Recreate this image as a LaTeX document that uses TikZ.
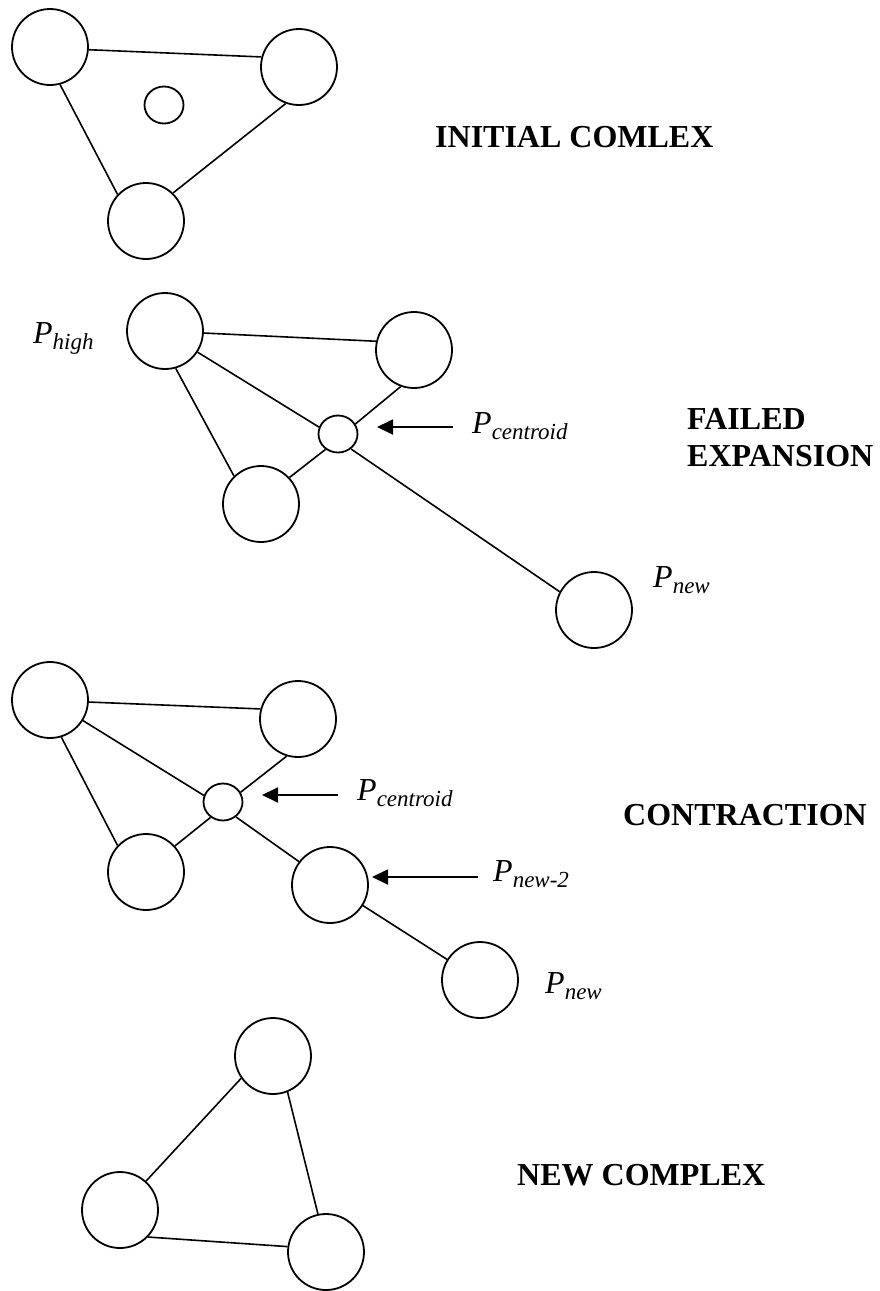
\documentclass[tikz,border=0pt]{standalone}
\usepackage{fontspec}
\setmainfont{Liberation Serif}
\usetikzlibrary{shapes.geometric,arrows.meta}

\newcommand{\plab}[1]{{\fontsize{32}{38}\selectfont\textit{P}\raisebox{-6pt}{\fontsize{23}{27}\selectfont\textit{#1}}}}

\begin{document}
\begin{tikzpicture}[x=1pt,y=-1pt,
  vertex/.style={circle,draw,line width=1.8pt,minimum size=76pt,inner sep=0pt},
  hub/.style={ellipse,draw,line width=1.8pt,minimum width=39pt,minimum height=37pt,inner sep=0pt},
  edge/.style={line width=1.6pt},
  pointer/.style={line width=1.8pt,-{Triangle[length=16pt,width=15pt]}},
  title/.style={anchor=base west,inner sep=0pt,font=\fontsize{32}{37}\selectfont\bfseries},
  plabel/.style={anchor=base west,inner sep=0pt}]
\useasboundingbox (0,0) rectangle (880,1291);

% ---- initial complex ----
\node[vertex] (a1) at (50,47) {};
\node[vertex] (b1) at (299,67) {};
\node[vertex] (c1) at (146,221) {};
\node[hub] (g1) at (164,105) {};
\draw[edge] (a1.-4.5) -- (b1.165);
\draw[edge] (a1.-75) -- (c1.137);
\draw[edge] (b1.-110) -- (c1.46);
\node[title] (t1) at (435,147) {INITIAL COMLEX};

% ---- failed expansion ----
\node[vertex] (h2) at (165,331) {};
\node[vertex] (r2) at (414,350) {};
\node[vertex] (l2) at (261,504) {};
\node[hub] (g2) at (338,434) {};
\node[vertex] (n2) at (594,610) {};
\draw[edge] (h2.-3) -- (r2.167);
\draw[edge] (h2.-33) -- (g2.160);
\draw[edge] (h2.-74) -- (l2.134);
\draw[edge] (g2.30) -- (r2.-110);
\draw[edge] (g2.-129) -- (l2.43);
\draw[edge] (g2.-49) -- (n2.152);
\node[plabel] (ph2) at (33,343) {\plab{high}};
\node[plabel] (pc2) at (472,433) {\plab{centroid}};
\node[plabel] (pn2) at (653,587) {\plab{new}};
\coordinate (q2tail) at (453,427);
\coordinate (q2tip) at (377,427);
\draw[pointer] (q2tail) -- (q2tip);
\node[title] (t2a) at (687,429) {FAILED};
\node[title] (t2b) at (687,466) {EXPANSION};

% ---- contraction ----
\node[vertex] (h3) at (50,700) {};
\node[vertex] (r3) at (298,719) {};
\node[vertex] (l3) at (146,872) {};
\node[hub] (g3) at (223,802) {};
\node[vertex] (m3) at (330,885) {};
\node[vertex] (n3) at (480,980) {};
\draw[edge] (h3.-3) -- (r3.165);
\draw[edge] (h3.-32.5) -- (g3.161);
\draw[edge] (h3.-73) -- (l3.137);
\draw[edge] (g3.29) -- (r3.-107.5);
\draw[edge] (g3.-129) -- (l3.42);
\draw[edge] (g3.-49) -- (m3.143);
\draw[edge] (m3.-32) -- (n3.148);
\coordinate (q3tail) at (338,795);
\coordinate (q3tip) at (262,795);
\draw[pointer] (q3tail) -- (q3tip);
\coordinate (q4tail) at (478,877);
\coordinate (q4tip) at (372,877);
\draw[pointer] (q4tail) -- (q4tip);
\node[plabel] (pc3) at (357,800) {\plab{centroid}};
\node[plabel] (pm3) at (493,881) {\plab{new-2}};
\node[plabel] (pn3) at (545,993) {\plab{new}};
\node[title] (t3) at (623,825) {CONTRACTION};

% ---- new complex ----
\node[vertex] (u4) at (273,1056) {};
\node[vertex] (l4) at (120,1210) {};
\node[vertex] (r4) at (326,1252) {};
\draw[edge] (u4.215) -- (l4.48.5);
\draw[edge] (u4.-68.5) -- (r4.102);
\draw[edge] (l4.-44) -- (r4.172.5);
\node[title] (t4) at (517,1185) {NEW COMPLEX};
\end{tikzpicture}
\end{document}
